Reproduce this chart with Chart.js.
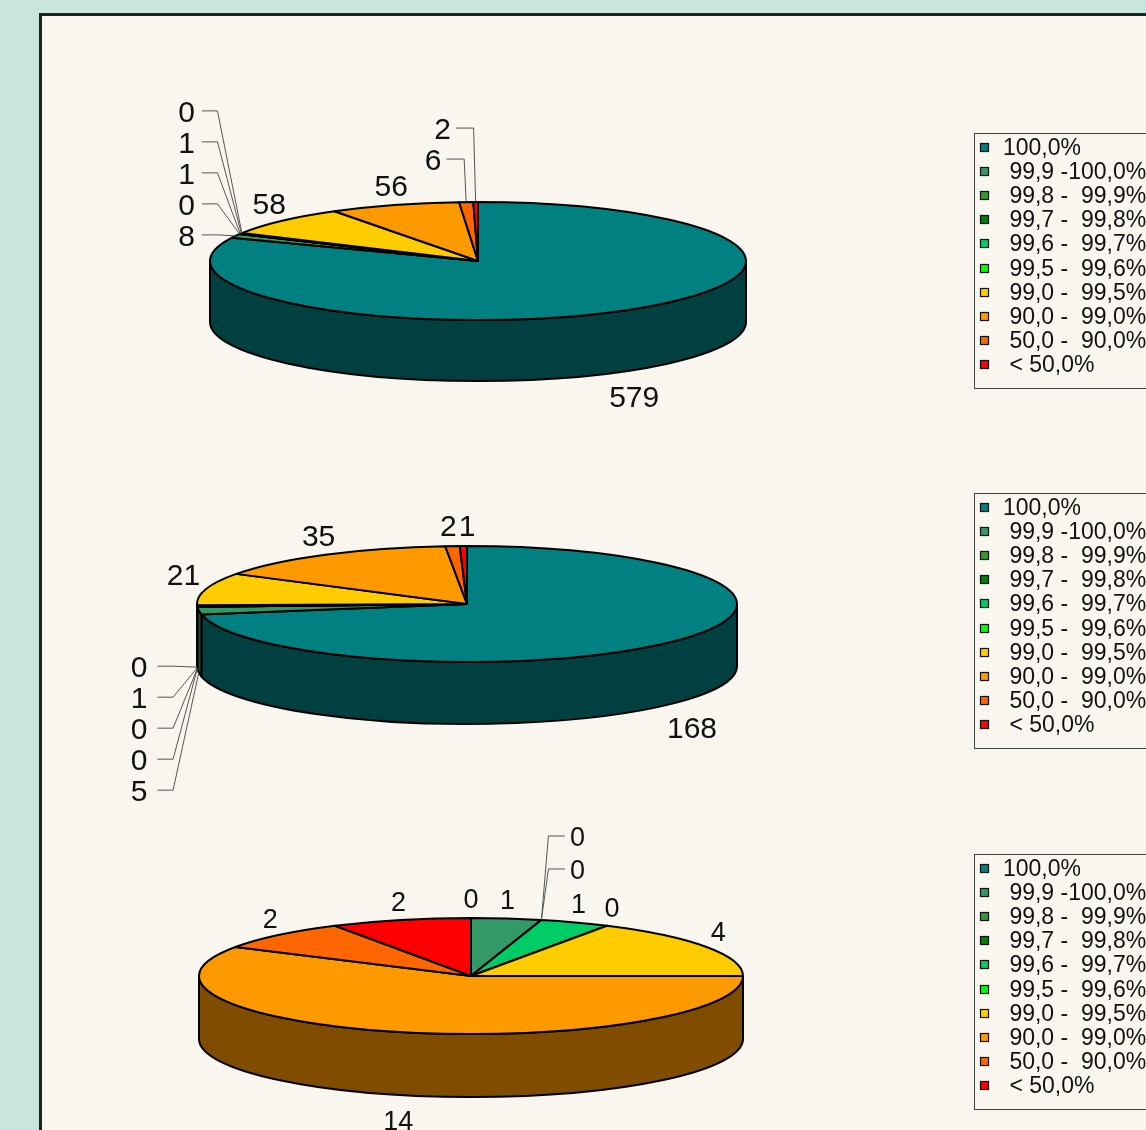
<!DOCTYPE html>
<html>
<head>
<meta charset="utf-8">
<script src="https://cdn.jsdelivr.net/npm/chart.js@4.4.1/dist/chart.umd.min.js"></script>
<style>
  html, body { margin: 0; padding: 0; width: 1146px; height: 1130px; overflow: hidden; background: #c9e6dc; }
  #frame { position: absolute; left: 39px; top: 13px; width: 1200px; height: 1200px;
           box-sizing: border-box; border: 3px solid #222; background: #f8f6ef; }
  canvas { position: absolute; }
</style>
</head>
<body>
<div id="frame"></div>
<canvas id="pieA"></canvas>
<canvas id="pieB"></canvas>
<canvas id="pieC"></canvas>
<script>
// availability classes (legend text)
const categories = [
  '100,0%',
  ' 99,9 -100,0%',
  ' 99,8 -  99,9%',
  ' 99,7 -  99,8%',
  ' 99,6 -  99,7%',
  ' 99,5 -  99,6%',
  ' 99,0 -  99,5%',
  ' 90,0 -  99,0%',
  ' 50,0 -  90,0%',
  ' < 50,0%'
];
const topColors  = ['#008080', '#339966', '#339933', '#008000', '#00cc66', '#00ff00', '#ffcc00', '#ff9900', '#ff6600', '#ff0000'];
const sideColors = ['#004040', '#1a4d33', '#1a4d1a', '#004000', '#006633', '#008000', '#806600', '#804c00', '#803300', '#800000'];

// counts per class, one list per pie
const countsA = [579, 8, 0, 1, 1, 0, 58, 56, 6, 2];
const countsB = [168, 5, 0, 0, 1, 0, 21, 35, 2, 1];
const countsC = [0, 1, 0, 0, 1, 0, 4, 14, 2, 2];

const PAGE_W = 1146;

// Draws the pie as a tilted 3D disc using the arc geometry Chart.js computed.
const pie3d = {
  id: 'pie3d',
  beforeDatasetsDraw(chart, args, opts) {
    const ctx = chart.ctx;
    const meta = chart.getDatasetMeta(0);
    const ds = chart.data.datasets[0];
    const arcs = meta.data;
    if (!arcs.length) return false;
    const cx = arcs[0].x, cy = arcs[0].y;
    const rx = arcs[0].outerRadius, ry = rx * opts.tilt, depth = opts.depth;
    const pt = (a) => [cx + rx * Math.cos(a), cy + ry * Math.sin(a)];

    ctx.save();
    ctx.lineWidth = 2;
    ctx.strokeStyle = '#000';
    ctx.lineJoin = 'round';

    // outer wall, front half only
    arcs.forEach((arc, i) => {
      const s = Math.max(arc.startAngle, 0);
      const e = Math.min(arc.endAngle, Math.PI);
      if (e <= s) return;
      ctx.beginPath();
      ctx.ellipse(cx, cy, rx, ry, 0, s, e, false);
      ctx.ellipse(cx, cy + depth, rx, ry, 0, e, s, true);
      ctx.closePath();
      ctx.fillStyle = opts.sideColors[i];
      ctx.fill();
      ctx.stroke();
    });

    // top face
    arcs.forEach((arc, i) => {
      ctx.beginPath();
      ctx.moveTo(cx, cy);
      ctx.ellipse(cx, cy, rx, ry, 0, arc.startAngle, arc.endAngle, false);
      ctx.closePath();
      ctx.fillStyle = ds.backgroundColor[i];
      ctx.fill();
      ctx.stroke();
    });

    // value labels
    const fs = opts.fontSize;
    ctx.font = fs + 'px "Liberation Sans", Arial, sans-serif';
    ctx.fillStyle = '#111';
    ctx.textAlign = 'center';
    ctx.textBaseline = 'alphabetic';
    const hh = fs * 0.42;
    const capShift = fs * 0.358;

    const anchorOf = (arc) => {
      const m = (arc.startAngle + arc.endAngle) / 2;
      const p = pt(m);
      if (Math.sin(m) > 0) p[1] += depth;
      return { m, x: p[0], y: p[1] };
    };

    const inCallout = new Set();
    (opts.callouts || []).forEach(g => g.indices.forEach(i => inCallout.add(i)));

    // direct labels
    const boxes = [];
    arcs.forEach((arc, i) => {
      if (inCallout.has(i)) return;
      const a = anchorOf(arc);
      const txt = String(ds.data[i]);
      const w = ctx.measureText(txt).width;
      const c = Math.cos(a.m), s = Math.sin(a.m);
      let x = a.x + 8 * c + c * c * c * w / 2;
      let y = s > 0 ? a.y + 8 * s + hh + 6 : a.y + 8 * s - hh;
      boxes.push({ txt, x, y, w, h: fs * 0.75 });
    });
    // push overlapping labels apart sideways
    for (let pass = 0; pass < 4; pass++) {
      for (let i = 0; i < boxes.length; i++) {
        for (let j = i + 1; j < boxes.length; j++) {
          const A = boxes[i], B = boxes[j];
          const ox = (A.w + B.w) / 2 + 2 - Math.abs(A.x - B.x);
          const oy = (A.h + B.h) / 2 - Math.abs(A.y - B.y);
          if (ox > 0 && oy > 0) {
            const dir = A.x <= B.x ? 1 : -1;
            A.x -= dir * ox / 2;
            B.x += dir * ox / 2;
          }
        }
      }
    }
    boxes.forEach(b => ctx.fillText(b.txt, b.x, b.y + capShift));

    // stacked labels with leader lines for thin slices
    (opts.callouts || []).forEach(g => {
      const first = anchorOf(arcs[g.indices[0]]);
      g.indices.forEach((idx, k) => {
        const a = anchorOf(arcs[idx]);
        const base = g.column ? first : a;
        const lx = base.x + g.dx;
        const ly = first.y + g.dy + g.step * k;
        const txt = String(ds.data[idx]);
        const w = ctx.measureText(txt).width;
        ctx.fillStyle = '#111';
        ctx.fillText(txt, lx, ly + capShift);
        const ex = base.x + g.elbow;
        const sx = g.dx < 0 ? lx + w / 2 + g.gap : lx - w / 2 - g.gap;
        ctx.beginPath();
        ctx.moveTo(sx, ly);
        ctx.lineTo(ex, ly);
        ctx.lineTo(a.x, a.y);
        ctx.lineWidth = 1;
        ctx.strokeStyle = '#555';
        ctx.stroke();
      });
    });

    ctx.restore();
    return false;
  }
};

// Boxed legend listing every class with its colour.
const boxLegend = {
  id: 'boxLegend',
  afterDraw(chart, args, opts) {
    const ctx = chart.ctx;
    const labels = chart.data.labels;
    const colors = chart.data.datasets[0].backgroundColor;
    ctx.save();
    ctx.lineWidth = 1;
    ctx.strokeStyle = '#444';
    ctx.strokeRect(opts.x + 0.5, opts.y + 0.5, opts.width, opts.height);
    const fs = opts.fontSize;
    ctx.font = fs + 'px "Liberation Sans", Arial, sans-serif';
    ctx.textAlign = 'left';
    ctx.textBaseline = 'alphabetic';
    labels.forEach((t, i) => {
      const yc = Math.round(opts.y + opts.first + i * opts.step);
      ctx.fillStyle = colors[i];
      ctx.fillRect(opts.x + 6, yc - 4, 9, 9);
      ctx.strokeStyle = '#111';
      ctx.lineWidth = 1.2;
      ctx.strokeRect(opts.x + 6.5, yc - 3.5, 8, 8);
      ctx.fillStyle = '#111';
      ctx.fillText(t, opts.x + 29, yc + fs * 0.358);
    });
    ctx.restore();
  }
};

function makePie(id, values, band, center, radius, tilt, depth, fontSize, legendTop, callouts) {
  const cv = document.getElementById(id);
  const left = 43;
  const W = PAGE_W - left, H = band[1] - band[0];
  cv.width = W; cv.height = H;
  cv.style.left = left + 'px';
  cv.style.top = band[0] + 'px';
  cv.style.width = W + 'px';
  cv.style.height = H + 'px';
  const lx = center[0] - left, ly = center[1] - band[0];
  return new Chart(cv, {
    type: 'pie',
    data: {
      labels: categories,
      datasets: [{ data: values, backgroundColor: topColors, borderWidth: 0, radius: radius }]
    },
    options: {
      responsive: false,
      animation: false,
      devicePixelRatio: 1,
      radius: radius,
      layout: { padding: { left: lx - 10, right: W - lx - 10, top: ly - 10, bottom: H - ly - 10 } },
      events: [],
      plugins: {
        legend: { display: false },
        tooltip: { enabled: false },
        pie3d: { tilt, depth, fontSize, sideColors, callouts },
        boxLegend: { x: 974 - left, y: legendTop - band[0], width: 300, height: 255, first: 14, step: 24.1, fontSize: 23 }
      }
    },
    plugins: [pie3d, boxLegend]
  });
}

makePie('pieA', countsA, [20, 440], [478, 261], 268, 59 / 268, 61, 30, 133, [
  { indices: [1, 2, 3, 4, 5], column: true, dx: -49, dy: -1, step: -31, elbow: -18, gap: 7 },
  { indices: [8, 9], column: false, dx: -33, dy: -43, step: -31, elbow: -2, gap: 5 }
]);
makePie('pieB', countsB, [440, 820], [467, 604], 270, 58 / 270, 62, 30, 493, [
  { indices: [5, 4, 3, 2, 1], column: true, dx: -58, dy: -1, step: 31, elbow: -24, gap: 10 }
]);
makePie('pieC', countsC, [820, 1130], [471, 976], 272, 58 / 272, 63, 27, 854, [
  { indices: [2, 3], column: true, dx: 36, dy: -51, step: -33, elbow: 7, gap: 5 }
]);
</script>
</body>
</html>
